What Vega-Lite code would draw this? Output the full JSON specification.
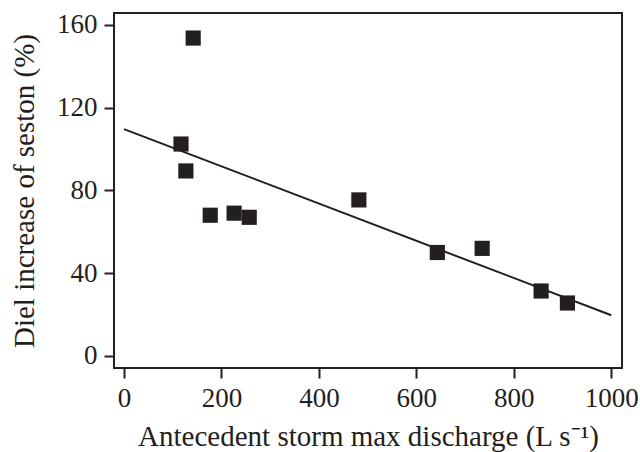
{
  "$schema": "https://vega.github.io/schema/vega-lite/v6.json",
  "width": 508,
  "height": 355,
  "autosize": {"type": "none"},
  "padding": {"left": 114, "top": 13, "right": 18, "bottom": 84},
  "background": "white",
  "config": {
    "view": {"stroke": "#231f20", "strokeWidth": 2},
    "axis": {
      "domain": false,
      "grid": false,
      "ticks": true,
      "tickColor": "#231f20",
      "tickWidth": 2,
      "tickSize": 10,
      "labelFont": "Liberation Serif",
      "labelFontSize": 27,
      "labelColor": "#231f20",
      "labelPadding": 7,
      "titleFont": "Liberation Serif",
      "titleFontSize": 29,
      "titleFontWeight": "normal",
      "titleColor": "#231f20"
    }
  },
  "datasets": {
    "points": [
      {"discharge": 142, "increase": 153.6},
      {"discharge": 117, "increase": 102.4},
      {"discharge": 127, "increase": 89.4},
      {"discharge": 177, "increase": 68},
      {"discharge": 226, "increase": 69},
      {"discharge": 257, "increase": 67},
      {"discharge": 482, "increase": 75.4},
      {"discharge": 643, "increase": 50},
      {"discharge": 735, "increase": 52},
      {"discharge": 856, "increase": 31.4},
      {"discharge": 910, "increase": 25.6}
    ],
    "fit": [
      {"discharge": 0, "increase": 109.6},
      {"discharge": 1000, "increase": 19.7}
    ]
  },
  "layer": [
    {
      "data": {"name": "fit"},
      "mark": {"type": "line", "color": "#231f20", "strokeWidth": 2},
      "encoding": {
        "x": {"field": "discharge", "type": "quantitative"},
        "y": {"field": "increase", "type": "quantitative"}
      }
    },
    {
      "data": {"name": "points"},
      "mark": {"type": "square", "filled": true, "color": "#231f20", "opacity": 1, "size": 230},
      "encoding": {
        "x": {
          "field": "discharge",
          "type": "quantitative",
          "scale": {"domain": [-20.5, 1022], "nice": false, "zero": false},
          "axis": {"values": [0, 200, 400, 600, 800, 1000], "format": "d", "title": "Antecedent storm max discharge (L s⁻¹)", "titlePadding": 11}
        },
        "y": {
          "field": "increase",
          "type": "quantitative",
          "scale": {"domain": [-5.8, 165.7], "nice": false, "zero": false},
          "axis": {"values": [0, 40, 80, 120, 160], "format": "d", "title": "Diel increase of seston (%)", "titlePadding": 17}
        }
      }
    }
  ]
}
